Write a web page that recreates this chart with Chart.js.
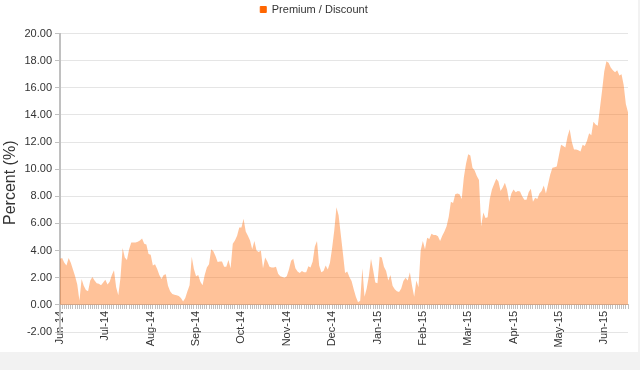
<!DOCTYPE html>
<html>
<head>
<meta charset="utf-8">
<script src="https://cdn.jsdelivr.net/npm/chart.js@4"></script>
<style>
  html, body { margin: 0; padding: 0; background: #f2f2f2; }
  #wrap { width: 638px; height: 352px; background: #fff; }
</style>
</head>
<body>
<div id="wrap"><canvas id="chart" width="638" height="352"></canvas></div>
<script>
// Premium / discount history, one value per trading day (Jun-14 .. Jun-15)
const months = ["Jun-14", "Jul-14", "Aug-14", "Sep-14", "Oct-14", "Nov-14", "Dec-14",
  "Jan-15", "Feb-15", "Mar-15", "Apr-15", "May-15", "Jun-15"];
const daysPerLabel = 21;

const premium = [
  3.4, 3.45, 3.1, 2.9, 3.45, 3.1, 2.6, 2.1, 1.5, 0.3,
  1.9, 1.4, 1.1, 1.0, 1.8, 2.05, 1.8, 1.6, 1.55, 1.45,
  1.65, 1.85, 1.5, 1.7, 2.2, 2.55, 1.3, 0.7, 2.0, 4.2,
  3.5, 3.3, 4.1, 4.6, 4.6, 4.6, 4.65, 4.75, 4.9, 4.5,
  4.45, 3.75, 3.7, 2.9, 3.0, 2.65, 2.2, 1.9, 2.2, 2.25,
  1.4, 1.0, 0.8, 0.75, 0.7, 0.65, 0.5, 0.25, 0.5, 1.0,
  1.45, 3.55, 2.65, 2.1, 2.2, 1.7, 1.45, 2.2, 2.75, 3.0,
  4.1, 3.95, 3.6, 3.15, 3.2, 3.2, 2.8, 2.8, 3.3, 2.7,
  4.5, 4.75, 5.1, 5.7, 5.7, 6.35, 5.4, 5.1, 4.75, 4.1,
  4.7, 4.0, 3.9, 4.0, 2.7, 3.5, 3.2, 2.8, 2.75, 2.75,
  2.8, 2.3, 2.1, 2.05, 2.0, 2.1, 2.6, 3.25, 3.4, 2.7,
  2.45, 2.35, 2.5, 2.4, 2.4, 2.85, 2.75, 3.2, 4.3, 4.7,
  2.9, 2.4, 2.5, 2.9, 2.6, 3.1, 4.2, 5.5, 7.2, 6.6,
  5.2, 3.8, 2.35, 2.45, 2.05, 1.75, 1.15, 0.6, 0.2, 0.3,
  2.7, 0.6, 1.2, 2.1, 3.4, 2.55, 1.65, 1.6, 3.55, 3.5,
  2.8, 2.5, 1.8, 2.2, 1.4, 1.15, 1.0, 0.95, 1.2, 1.75,
  2.0, 1.8, 2.4, 1.4, 0.6, 1.8, 1.3, 4.0, 4.7, 4.1,
  4.95, 4.85, 5.25, 5.15, 5.15, 5.05, 4.7, 5.1, 5.4, 5.8,
  6.5, 7.6, 7.5, 8.15, 8.2, 8.15, 7.8, 9.4, 10.4, 11.1,
  11.0, 10.1, 9.9, 9.5, 9.2, 5.8, 6.8, 6.4, 6.45, 7.8,
  8.5, 8.9, 9.3, 9.1, 8.4, 8.65, 9.0, 8.5, 7.6, 8.2,
  8.5, 8.3, 8.4, 8.35, 8.0, 7.75, 7.75, 8.3, 8.55, 7.6,
  7.9, 7.8, 8.2, 8.4, 8.8, 8.2, 8.9, 9.6, 10.1, 10.15,
  10.2, 11.0, 11.8, 11.7, 11.6, 12.4, 12.95, 12.0, 11.45, 11.45,
  11.4, 11.3, 11.8, 11.7, 12.1, 12.65, 12.5, 13.5, 13.3, 13.2,
  14.5, 15.8, 17.2, 17.95, 17.85, 17.5, 17.3, 17.15, 17.3, 16.9,
  17.0, 16.2, 14.8, 14.2
];

// one category per day, month name on every 21st
const labels = premium.map((_, i) => (i % daysPerLabel === 0 ? months[i / daysPerLabel] || "" : ""));

const ORANGE = "#ff6600", AXIS = "#c0c0c0", TEXT = "#333";

Chart.defaults.font.family = '"Liberation Sans", Arial, sans-serif';
Chart.defaults.color = TEXT;

// push the plot down a little below the legend
const legendGap = {
  id: "legendGap",
  beforeInit(chart) {
    const fit = chart.legend.fit;
    chart.legend.fit = function () { fit.call(this); this.height += 8.5; };
  },
};

new Chart(document.getElementById("chart"), {
  type: "line",
  data: {
    labels,
    datasets: [{
      label: "Premium / Discount", data: premium, fill: "origin",
      backgroundColor: "rgba(255,102,0,0.4)", borderColor: "rgba(0,0,0,0)",
      borderWidth: 0, pointRadius: 0, tension: 0,
    }],
  },
  options: {
    responsive: false, animation: false,
    layout: { padding: { right: 10, bottom: 20 } },
    plugins: {
      tooltip: { enabled: false },
      legend: {
        labels: {
          boxWidth: 6, boxHeight: 6, padding: 4, font: { size: 11 },
          generateLabels: (chart) =>
            Chart.defaults.plugins.legend.labels.generateLabels(chart).map((l) =>
              Object.assign(l, { fillStyle: ORANGE, strokeStyle: ORANGE, lineWidth: 1 })),
        },
      },
    },
    scales: {
      x: {
        position: { y: 0 }, offset: false,
        grid: { drawOnChartArea: false, color: AXIS, tickLength: 4 },
        border: { color: AXIS },
        ticks: { autoSkip: false, minRotation: 90, maxRotation: 90, padding: 2, font: { size: 11 } },
        afterFit: (s) => { s.paddingLeft = 0; s.paddingRight = 0; },
      },
      y: {
        min: -2, max: 20, z: 1,
        ticks: { stepSize: 2, padding: 3, font: { size: 11 }, callback: (v) => v.toFixed(2) },
        grid: { color: "rgba(0,0,0,0.1)", tickColor: AXIS, tickLength: 5 },
        border: { color: AXIS, width: 2 },
        title: { display: true, text: "Percent (%)", font: { size: 16 }, color: TEXT, padding: { top: 1, bottom: 4 } },
        afterFit: (s) => { s.width = 60; },
      },
    },
  },
  plugins: [legendGap],
});
</script>
</body>
</html>
